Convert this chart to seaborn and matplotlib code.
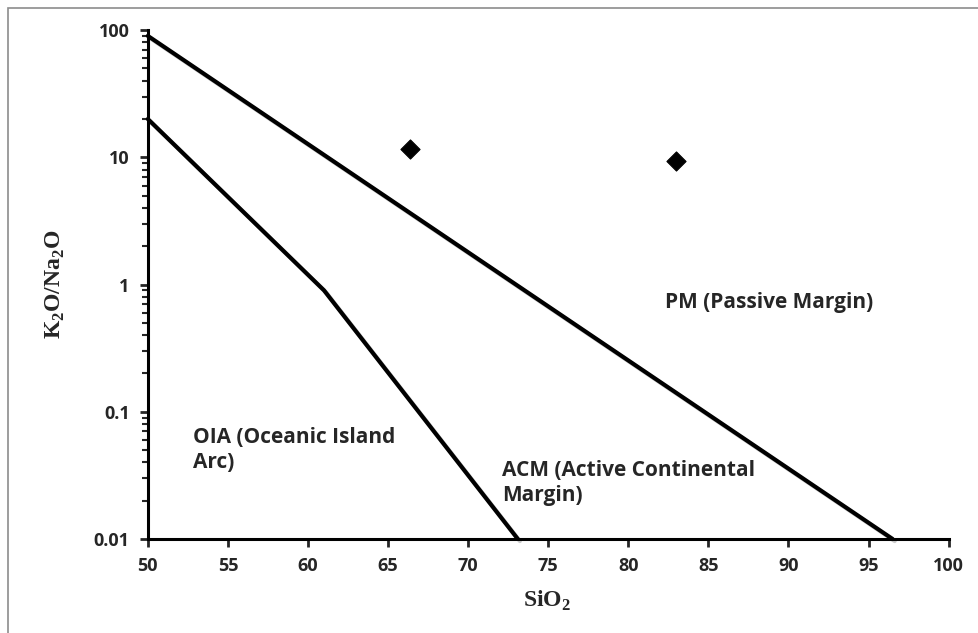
import matplotlib
matplotlib.use("Agg")
import matplotlib.pyplot as plt
import matplotlib.ticker as mticker
import matplotlib.patheffects as pe
import seaborn as sns
import pandas as pd

# boundary lines of the discrimination diagram
pm_sio2 = [50, 96.5]
pm_ratio = [90, 0.01]
oia_sio2 = [50, 61, 73.1]
oia_ratio = [20, 0.9, 0.01]

# samples
sample_sio2 = [66.4, 83.0]
sample_ratio = [11.6, 9.35]

x_ticks = [50, 55, 60, 65, 70, 75, 80, 85, 90, 95, 100]
y_ticks = [0.01, 0.1, 1, 10, 100]

sns.set_style("ticks")
plt.rcParams['font.family'] = ['Open Sans', 'DejaVu Sans']

fig = plt.figure(figsize=(9.79, 6.33), dpi=100)
ax = fig.add_axes([0.151, 0.1485, 0.818, 0.804])

# grey chart border like the spreadsheet frame
fig.patches.append(plt.Rectangle((8 / 979, -0.1), 1.2, 1 - 8 / 633 + 0.1,
                                 transform=fig.transFigure, fill=False,
                                 edgecolor="#8c8c8c", linewidth=1.2))

shadow = [pe.SimpleLineShadow(offset=(1.5, -1.5), shadow_color="#999999", alpha=0.5),
          pe.Normal()]

pm = pd.DataFrame({"sio2": pm_sio2, "ratio": pm_ratio})
oia = pd.DataFrame({"sio2": oia_sio2, "ratio": oia_ratio})
sns.lineplot(data=pm, x="sio2", y="ratio", ax=ax, color="black", linewidth=3,
             sort=False, estimator=None, path_effects=shadow, clip_on=False)
sns.lineplot(data=oia, x="sio2", y="ratio", ax=ax, color="black", linewidth=3,
             sort=False, estimator=None, path_effects=shadow, clip_on=False)

sns.scatterplot(x=sample_sio2, y=sample_ratio, ax=ax, marker="D", s=95,
                color="black", edgecolor="black", zorder=5)

ax.set_yscale("log")
ax.set_xlim(50, 100)
ax.set_ylim(0.01, 100)
ax.set_xticks(x_ticks)
ax.set_yticks(y_ticks)
ax.yaxis.set_major_formatter(mticker.FuncFormatter(lambda v, p: "{:g}".format(v)))
ax.yaxis.set_minor_locator(mticker.LogLocator(base=10, subs=range(2, 10)))
ax.yaxis.set_minor_formatter(mticker.NullFormatter())

for side in ["top", "right"]:
    ax.spines[side].set_visible(False)
for side in ["left", "bottom"]:
    ax.spines[side].set_linewidth(2.2)
    ax.spines[side].set_color("black")

ax.tick_params(axis="both", which="major", length=6, width=2, direction="out",
               labelsize=13, pad=7)
ax.tick_params(axis="y", which="minor", length=4, width=1.5, direction="out")
for lab in ax.get_xticklabels() + ax.get_yticklabels():
    lab.set_fontweight("bold")

ax.set_xlabel("SiO$_\\mathregular{2}$", family="Liberation Serif", fontweight="bold",
              fontsize=17)
ax.set_ylabel("K$_\\mathregular{2}$O/Na$_\\mathregular{2}$O", family="Liberation Serif",
              fontweight="bold", fontsize=17)
ax.xaxis.set_label_coords(0.499, -0.098)
ax.yaxis.set_label_coords(-0.101, 0.5)

label_kw = dict(fontsize=15, fontweight="bold", va="center", ha="left", linespacing=1.3)
ax.text(82.3, 0.716, "PM (Passive Margin)", **label_kw)
ax.text(52.8, 0.050, "OIA (Oceanic Island\nArc)", **label_kw)
ax.text(72.1, 0.0276, "ACM (Active Continental\nMargin)", **label_kw)

ax.set_facecolor("white")
fig.savefig("out.png", dpi=100, facecolor="white")
